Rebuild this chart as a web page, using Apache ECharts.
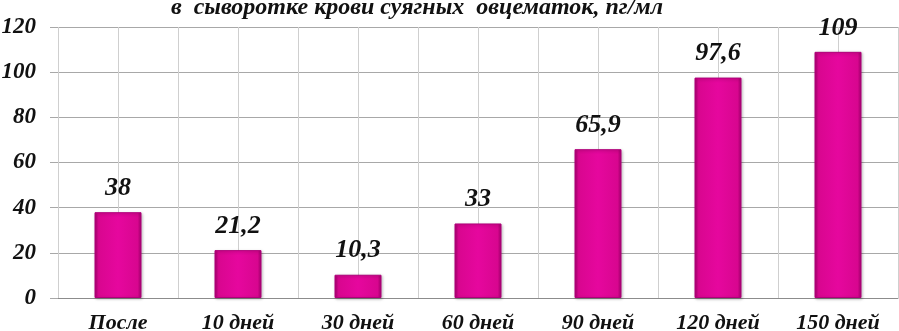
<!DOCTYPE html>
<html><head><meta charset="utf-8">
<script src="https://cdn.jsdelivr.net/npm/echarts@6/dist/echarts.min.js"></script>
<style>html,body{margin:0;padding:0;background:#fff}#c{width:899px;height:331px}</style>
</head><body><div id="c"></div>
<script>
const categories = ['После', '10 дней', '30 дней', '60 дней', '90 дней', '120 дней', '150 дней'];
const values = [38, 21.2, 10.3, 33, 65.9, 97.6, 109];
const valueLabels = ['38', '21,2', '10,3', '33', '65,9', '97,6', '109'];
const yTicks = [0, 20, 40, 60, 80, 100, 120];
const titleText = 'в  сыворотке крови суягных  овцематок, пг/мл';

const font = 'Liberation Serif';
const chart = echarts.init(document.getElementById('c'));
chart.setOption({
  animation: false,
  title: {
    text: titleText, left: 412, top: -9, textAlign: 'center',
    textStyle: {fontFamily: font, fontStyle: 'italic', fontWeight: 'bold', fontSize: 24, color: '#111'}
  },
  grid: {left: 58, right: 1, top: 27, bottom: 33, containLabel: false, outerBoundsMode: 'none'},
  xAxis: [{
    type: 'category', data: categories,
    axisLine: {show: true, lineStyle: {color: '#8c8c8c', width: 1}},
    axisTick: {show: false},
    splitLine: {show: false},
    axisLabel: {margin: 14, fontFamily: font, fontStyle: 'italic', fontWeight: 'bold', fontSize: 22, color: '#111'}
  }, {
    type: 'value', min: 0, max: 14, interval: 1, position: 'bottom',
    axisLine: {show: false}, axisTick: {show: false}, axisLabel: {show: false},
    splitLine: {show: true, lineStyle: {color: '#cfcfcf', width: 1}}
  }],
  yAxis: {
    type: 'value', min: 0, max: 120, interval: 20,
    axisLine: {show: false},
    axisTick: {show: true, length: 8, lineStyle: {color: '#a8a8a8'}},
    splitLine: {show: true, lineStyle: {color: '#a8a8a8', width: 1}},
    axisLabel: {margin: 22, fontFamily: font, fontStyle: 'italic', fontWeight: 'bold', fontSize: 23, color: '#111',
      formatter: v => yTicks.includes(v) ? String(v) : ''}
  },
  series: [{
    type: 'bar', xAxisIndex: 0, data: values, barWidth: 47, z: 3,
    itemStyle: {
      color: new echarts.graphic.LinearGradient(0, 0, 1, 0, [
        {offset: 0, color: '#a8006f'},
        {offset: 0.08, color: '#d8068f'},
        {offset: 0.5, color: '#e6079e'},
        {offset: 0.92, color: '#d8068f'},
        {offset: 1, color: '#9c0068'}
      ]),
      borderColor: '#b0007a', borderWidth: 1,
      shadowColor: 'rgba(0,0,0,0.25)', shadowBlur: 3, shadowOffsetX: 1, shadowOffsetY: 1
    },
    label: {
      show: true, position: 'top', distance: 11,
      formatter: p => valueLabels[p.dataIndex],
      fontFamily: font, fontStyle: 'italic', fontWeight: 'bold', fontSize: 26, color: '#111'
    }
  }]
});
</script></body></html>
